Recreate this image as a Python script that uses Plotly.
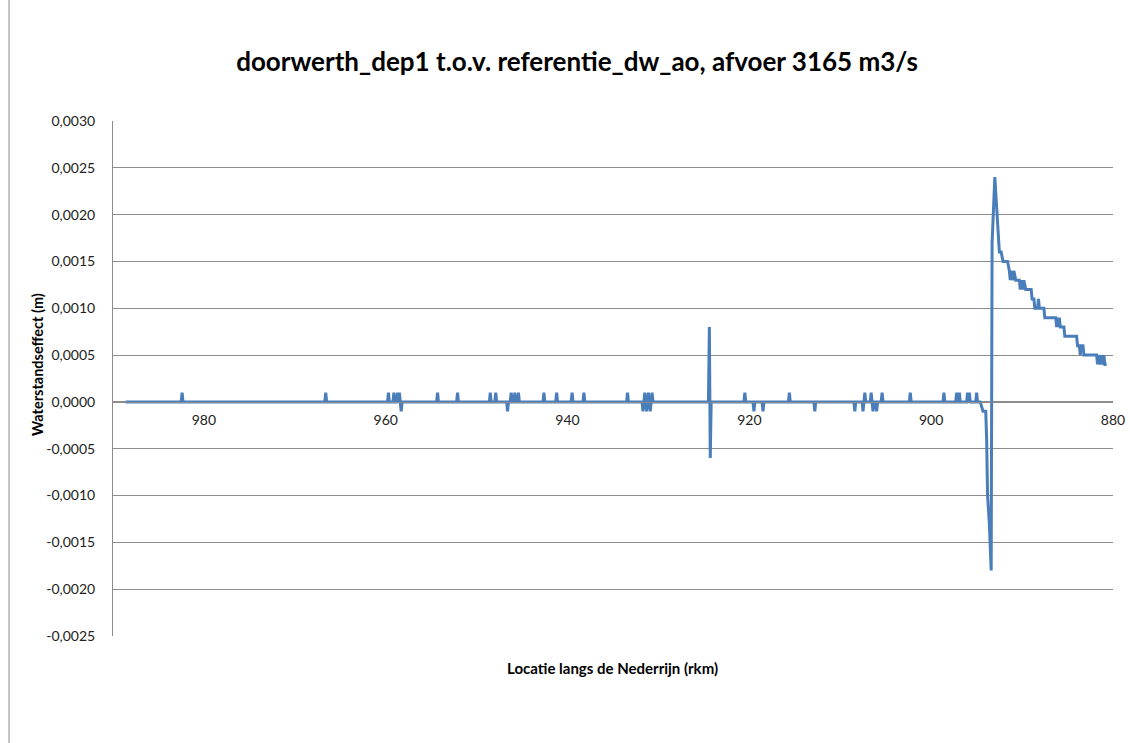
import plotly.graph_objects as go

# Locatie langs de Nederrijn (rkm) and waterstandseffect (m)
rkm = [
    988.6,
    982.5, 982.4, 982.3,
    966.7, 966.6, 966.5,
    959.8, 959.7, 959.6,
    959.2, 959.1, 959.0,
    958.8, 958.7, 958.6, 958.5, 958.4, 958.3, 958.2,
    954.4, 954.3, 954.2,
    952.2, 952.1, 952.0,
    948.6, 948.5, 948.4,
    948.0, 947.9, 947.8,
    946.7, 946.6, 946.5,
    946.3, 946.2, 946.1,
    945.9, 945.8, 945.7,
    945.5, 945.4, 945.3,
    942.7, 942.6, 942.5,
    941.3, 941.2, 941.1,
    939.6, 939.5, 939.4,
    938.3, 938.2, 938.1,
    933.5, 933.4, 933.3,
    931.8, 931.7, 931.6, 931.5, 931.4, 931.3, 931.2, 931.1, 931.0, 930.9, 930.8, 930.7, 930.6,
    924.5, 924.4, 924.3, 924.2,
    920.6, 920.5, 920.4,
    919.6, 919.5, 919.4,
    918.6, 918.5, 918.4,
    915.7, 915.6, 915.5,
    912.9, 912.8, 912.7,
    908.5, 908.4, 908.3,
    907.6, 907.5, 907.4, 907.3, 907.2,
    906.7, 906.6, 906.5, 906.4, 906.3,
    906.1, 906.0, 905.9,
    905.5, 905.4, 905.3,
    902.4, 902.3, 902.2,
    898.7, 898.6, 898.5,
    897.3, 897.2, 897.1, 897.0, 896.9, 896.8,
    896.1, 896.0, 895.9, 895.8, 895.7,
    895.1, 895.0, 894.9,
    894.6, 894.3, 894.0, 893.9, 893.8, 893.6, 893.4,
    893.3, 893.0, 892.5, 892.3, 892.1, 891.6, 891.4,
    891.3, 891.2, 891.0, 890.9, 890.7, 890.5, 890.3, 890.2, 890.1, 889.9, 889.8, 889.6,
    889.0, 888.9, 888.7, 888.6, 888.3, 888.2, 888.1, 887.6, 887.5,
    886.3, 886.2, 886.1, 886.0, 885.9, 885.8, 885.4, 885.3,
    884.0, 883.9, 883.7, 883.6, 883.5, 883.3, 883.2,
    881.8, 881.7, 881.6, 881.4, 881.3, 881.1, 881.0, 880.9, 880.7,
]

effect = [
    0.0,
    0.0, 0.0001, 0.0,
    0.0, 0.0001, 0.0,
    0.0, 0.0001, 0.0,
    0.0, 0.0001, 0.0,
    0.0, 0.0001, 0.0, 0.0001, 0.0, -0.0001, 0.0,
    0.0, 0.0001, 0.0,
    0.0, 0.0001, 0.0,
    0.0, 0.0001, 0.0,
    0.0, 0.0001, 0.0,
    0.0, -0.0001, 0.0,
    0.0, 0.0001, 0.0,
    0.0, 0.0001, 0.0,
    0.0, 0.0001, 0.0,
    0.0, 0.0001, 0.0,
    0.0, 0.0001, 0.0,
    0.0, 0.0001, 0.0,
    0.0, 0.0001, 0.0,
    0.0, 0.0001, 0.0,
    0.0, -0.0001, 0.0, 0.0001, 0.0, -0.0001, 0.0, 0.0001, 0.0, -0.0001, 0.0, 0.0001, 0.0,
    0.0, 0.0008, -0.0006, 0.0,
    0.0, 0.0001, 0.0,
    0.0, -0.0001, 0.0,
    0.0, -0.0001, 0.0,
    0.0, 0.0001, 0.0,
    0.0, -0.0001, 0.0,
    0.0, -0.0001, 0.0,
    0.0, -0.0001, 0.0, 0.0001, 0.0,
    0.0, 0.0001, 0.0, -0.0001, 0.0,
    0.0, -0.0001, 0.0,
    0.0, 0.0001, 0.0,
    0.0, 0.0001, 0.0,
    0.0, 0.0001, 0.0,
    0.0, 0.0001, 0.0, 0.0, 0.0001, 0.0,
    0.0, 0.0001, 0.0, 0.0001, 0.0,
    0.0, 0.0001, 0.0,
    0.0, -0.0001, -0.0001, -0.0004, -0.0010, -0.0013, -0.0018,
    0.0017, 0.0024, 0.0016, 0.0016, 0.0015, 0.0015, 0.0014,
    0.0013, 0.0014, 0.0013, 0.0014, 0.0013, 0.0013, 0.0013, 0.0012, 0.0013, 0.0012, 0.0013, 0.0012,
    0.0012, 0.0011, 0.0011, 0.0010, 0.0010, 0.0011, 0.0010, 0.0010, 0.0009,
    0.0009, 0.0008, 0.0009, 0.0008, 0.0009, 0.0008, 0.0008, 0.0007,
    0.0007, 0.0006, 0.0006, 0.0005, 0.0006, 0.0006, 0.0005,
    0.0005, 0.0004, 0.0005, 0.0004, 0.0005, 0.0004, 0.0005, 0.0004, 0.0004,
]

x_ticks = [980, 960, 940, 920, 900, 880]
y_ticks = [-0.0025, -0.0020, -0.0015, -0.0010, -0.0005, 0.0,
           0.0005, 0.0010, 0.0015, 0.0020, 0.0025, 0.0030]
y_ticktext = ["-0,0025", "-0,0020", "-0,0015", "-0,0010", "-0,0005", "0,0000",
              "0,0005", "0,0010", "0,0015", "0,0020", "0,0025", "0,0030"]

title_text = "doorwerth_dep1 t.o.v. referentie_dw_ao, afvoer 3165 m3/s"
x_title = "Locatie langs de Nederrijn (rkm)"
y_title = "Waterstandseffect (m)"

FONT = "Lato, 'Open Sans', sans-serif"
GRID = "#8c8c8c"

# full-window figure; the body margin is removed after plotting (see post_script)
W, H = 1130, 743
L, T = 113, 121
PW, PH = 1000, 515

fig = go.Figure()
fig.add_trace(go.Scatter(
    x=rkm, y=effect, mode="lines",
    line=dict(color="#4a7ebb", width=3),
    hoverinfo="x+y", showlegend=False,
))

y_min, y_max = -0.0025, 0.0030
zero_pos = (0 - y_min) / (y_max - y_min)

fig.update_layout(
    width=W, height=H,
    margin=dict(l=L, r=W - L - PW, t=T, b=H - T - PH, autoexpand=False),
    paper_bgcolor="white", plot_bgcolor="white",
    font=dict(family=FONT, size=14, color="#222222"),
    title=dict(text="<b>" + title_text + "</b>", x=577 / W, xref="container",
               y=1 - 62 / H, yanchor="middle", xanchor="center",
               font=dict(family=FONT, size=26, color="#000000")),
    xaxis=dict(
        range=[990, 880], tickvals=x_ticks, ticktext=[str(v) for v in x_ticks],
        showgrid=False, zeroline=False,
        showline=True, linecolor=GRID, linewidth=1,
        ticks="", anchor="free", position=zero_pos,
        ticklabelstandoff=5,
        tickfont=dict(size=14, family=FONT, color="#222222"),
    ),
    yaxis=dict(
        range=[y_min, y_max], tickvals=y_ticks, ticktext=y_ticktext,
        showgrid=True, gridcolor=GRID, gridwidth=1, zeroline=False,
        showline=True, linecolor=GRID, linewidth=1,
        ticks="", ticklabelstandoff=14,
        tickfont=dict(size=14, family=FONT, color="#222222"),
    ),
    annotations=[
        dict(text="<b>" + x_title + "</b>", xref="paper", yref="paper",
             x=(612 - 113) / PW, y=(636 - 668) / PH, showarrow=False,
             xanchor="center", yanchor="middle",
             font=dict(family=FONT, size=15, color="#000000")),
        dict(text="<b>" + y_title + "</b>", xref="paper", yref="paper",
             x=(37 - 113) / PW, y=(636 - 365) / PH, showarrow=False,
             textangle=-90, xanchor="center", yanchor="middle",
             font=dict(family=FONT, size=14.5, color="#000000")),
    ],
    shapes=[
        dict(type="line", xref="paper", yref="paper",
             x0=(9 - 113) / PW, x1=(9 - 113) / PW,
             y0=(636 - 760) / PH, y1=(636 + 130) / PH,
             line=dict(color="#8c8c8c", width=1)),
    ],
)

fig.write_html(
    "out.html",
    config={"displayModeBar": False},
    post_script="document.body.style.margin='0';document.body.style.overflow='hidden';",
)
